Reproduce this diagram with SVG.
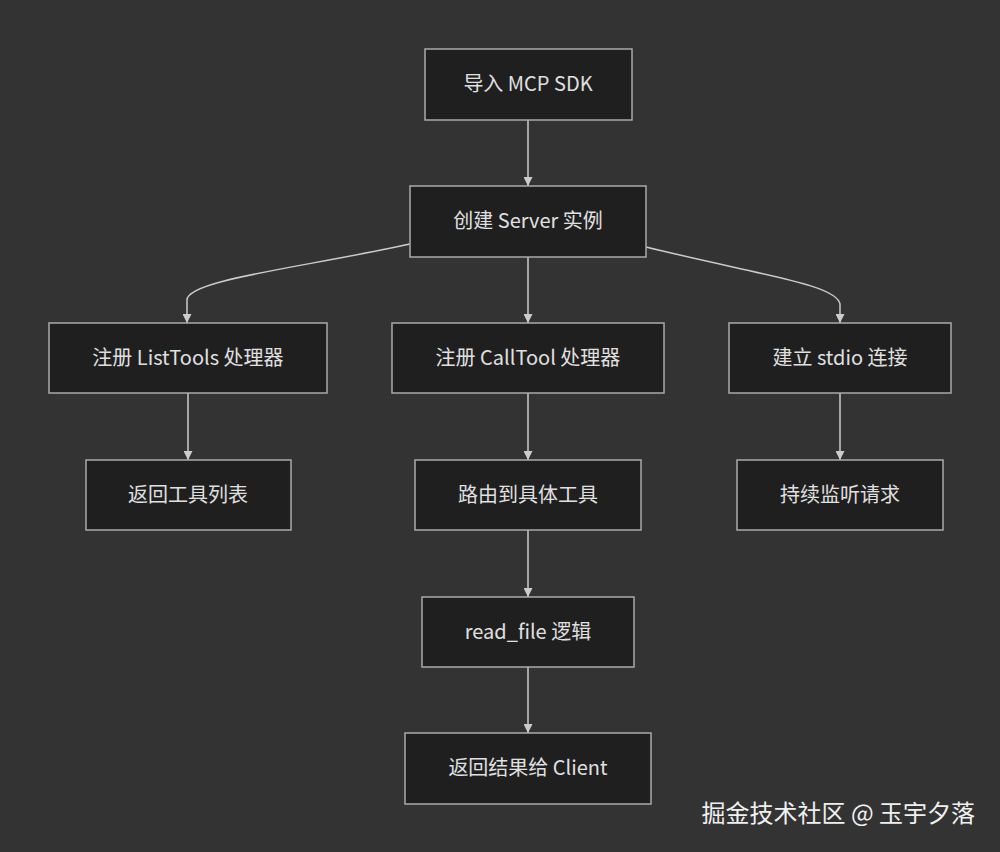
<svg xmlns="http://www.w3.org/2000/svg" width="1000" height="852" viewBox="0 0 1000 852">
<style>
.n rect{fill:#1f1f1f;stroke:#aaaaaa;stroke-width:1.5}
.n text{fill:#e0e0e0;font-family:"Noto Sans CJK SC","Noto Sans",sans-serif;font-size:20px;text-anchor:middle;dominant-baseline:central}
.e path{fill:none;stroke:#cccccc;stroke-width:1.5;marker-end:url(#a)}
</style>
<defs><marker id="a" viewBox="0 0 10 10" refX="10" refY="5" markerWidth="9" markerHeight="9" orient="auto" markerUnits="userSpaceOnUse"><path d="M0,0L10,5L0,10z" fill="#cccccc"/></marker></defs>
<rect width="1000" height="852" fill="#333333"/>
<g class="e">
<path d="M528,120V186"/>
<path d="M410,244C300,268 187,280 187,300V323"/>
<path d="M528,257V323"/>
<path d="M646,247C760,275 840,285 840,305V323"/>
<path d="M188,393V460"/>
<path d="M528,393V460"/>
<path d="M840,393V460"/>
<path d="M528,530V597"/>
<path d="M528,667V733"/>
</g>
<g id="n1" class="n"><rect x="425" y="49" width="207" height="71"/><text x="528" y="82">导入 MCP SDK</text></g>
<g id="n2" class="n"><rect x="410" y="186" width="236" height="71"/><text x="528" y="219">创建 Server 实例</text></g>
<g id="n3" class="n"><rect x="49" y="323" width="278" height="70"/><text x="188" y="356">注册 ListTools 处理器</text></g>
<g id="n4" class="n"><rect x="392" y="323" width="272" height="70"/><text x="528" y="356">注册 CallTool 处理器</text></g>
<g id="n5" class="n"><rect x="729" y="323" width="222" height="70"/><text x="840" y="356">建立 stdio 连接</text></g>
<g id="n6" class="n"><rect x="86" y="460" width="205" height="70"/><text x="188" y="493">返回工具列表</text></g>
<g id="n7" class="n"><rect x="415" y="460" width="226" height="70"/><text x="528" y="493">路由到具体工具</text></g>
<g id="n8" class="n"><rect x="737" y="460" width="206" height="70"/><text x="840" y="493">持续监听请求</text></g>
<g id="n9" class="n"><rect x="422" y="597" width="212" height="70"/><text x="528" y="630">read_file 逻辑</text></g>
<g id="n10" class="n"><rect x="405" y="733" width="246" height="71"/><text x="528" y="766">返回结果给 Client</text></g>
<text x="975" y="822" text-anchor="end" fill="#f0f0f0" font-family="Noto Sans CJK SC,sans-serif" font-size="24">掘金技术社区 @ 玉宇夕落</text>
</svg>
